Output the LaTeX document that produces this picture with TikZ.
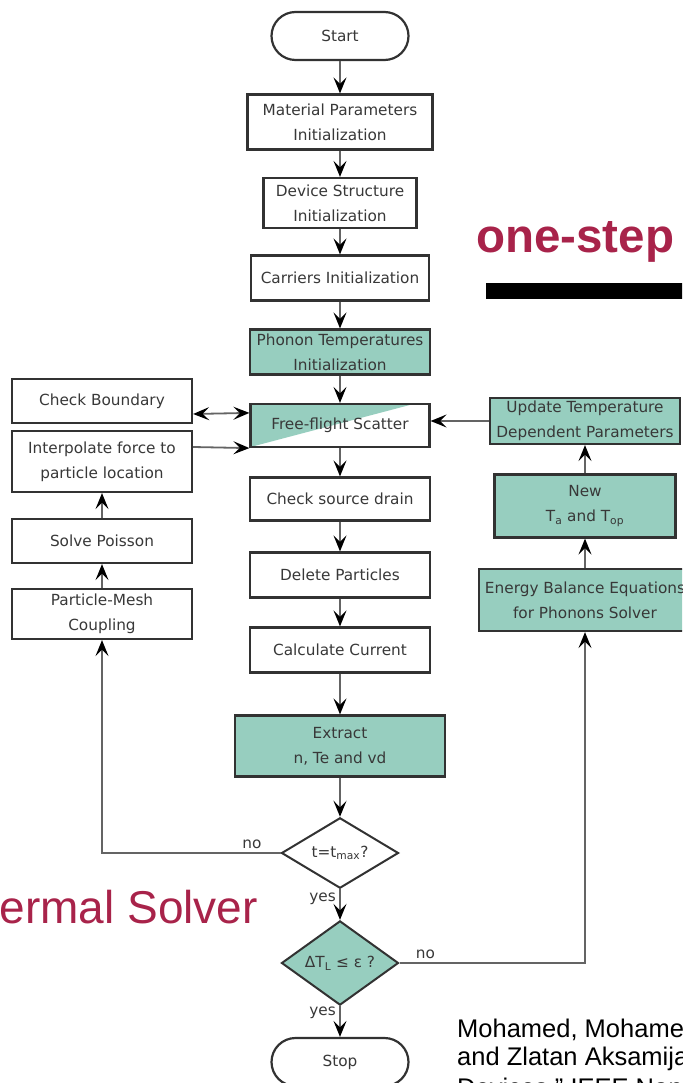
\documentclass[tikz,border=0pt]{standalone}
\usepackage{fontspec}
\setmainfont{DejaVu Sans}
\newfontfamily\arialfont{Liberation Sans}
\usetikzlibrary{arrows.meta,shapes.geometric}
\definecolor{phonon}{RGB}{151,206,191}
\definecolor{boxline}{RGB}{50,50,50}
\definecolor{wire}{RGB}{100,100,100}
\definecolor{slidered}{RGB}{168,35,74}

\begin{document}
\begin{tikzpicture}[x=1pt,y=-1pt,
    >={Stealth[black,length=16pt,width=13pt,inset=6.5pt]},
    box/.style={rectangle,draw=boxline,line width=2.2pt,fill=white,
                text=black!78,align=center,inner sep=0pt,
                font=\fontsize{15.3}{25}\selectfont},
    hot/.style={box,fill=phonon},
    term/.style={box,rounded corners=24pt,minimum width=137pt,minimum height=48pt},
    test/.style={diamond,draw=boxline,line width=2pt,fill=white,text=black!78,
                 inner sep=0pt,minimum width=117pt,minimum height=67pt,
                 font=\fontsize{15.3}{18}\selectfont},
    lbl/.style={text=black!78,font=\fontsize{15.3}{18}\selectfont}]

\useasboundingbox (0,0) rectangle (682,1083);
\clip (0,0) rectangle (682,1083);

% main column
\node[term] (start) at (340,36) {Start};
\node[box,minimum width=185pt,minimum height=55pt] (mat) at (340,122) {Material Parameters\\Initialization};
\node[box,minimum width=153pt,minimum height=50pt] (dev) at (340,203) {Device Structure\\Initialization};
\node[box,minimum width=178pt,minimum height=45pt] (car) at (340,278) {Carriers Initialization};
\node[hot,minimum width=180pt,minimum height=45pt] (pht) at (340,352) {Phonon Temperatures\\Initialization};
\node[box,minimum width=179pt,minimum height=43pt,
      path picture={\fill[phonon] (path picture bounding box.north west)
        -- ([xshift=-16pt]path picture bounding box.north east)
        -- (path picture bounding box.south west) -- cycle;}] (ffs) at (340,425.5) {Free-flight Scatter};
\node[box,minimum width=180pt,minimum height=43pt] (csd) at (340,499) {Check source drain};
\node[box,minimum width=180pt,minimum height=45pt] (del) at (340,575) {Delete Particles};
\node[box,minimum width=180pt,minimum height=45pt] (cur) at (340,650) {Calculate Current};
\node[hot,minimum width=210pt,minimum height=61pt] (ext) at (340,746) {Extract\\n, Te and vd};
\node[test] (tmax) at (340,853) {t=t\textsubscript{max}?};
\node[test,fill=phonon] (dtl) at (340,963) {ΔT\textsubscript{L} ≤ ε ?};
\node[term] (stop) at (340,1062) {Stop};

% left column
\node[box,minimum width=180pt,minimum height=44pt] (cb) at (102,401) {Check Boundary};
\node[box,minimum width=180pt,minimum height=61pt] (ipf) at (102,461.5) {Interpolate force to\\particle location};
\node[box,minimum width=180pt,minimum height=44pt] (spo) at (102,541) {Solve Poisson};
\node[box,minimum width=180pt,minimum height=50pt] (pmc) at (102,614) {Particle-Mesh\\Coupling};

% right column
\node[hot,minimum width=190pt,minimum height=46pt] (upd) at (585,421) {Update Temperature\\Dependent Parameters};
\node[hot,minimum width=181pt,minimum height=63pt] (new) at (585,506) {New\\T\textsubscript{a} and T\textsubscript{op}};
\node[hot,minimum width=212pt,minimum height=62pt] (ebe) at (585,600) {Energy Balance Equations\\for Phonons Solver};

\begin{scope}[every edge/.style={draw=wire,line width=1.8pt}]
    \path [->] (start) edge (mat);
    \path [->] (mat) edge (dev);
    \path [->] (dev) edge (car);
    \path [->] (car) edge (pht);
    \path [->] (pht) edge (ffs);
    \path [->] (ffs) edge (csd);
    \path [->] (csd) edge (del);
    \path [->] (del) edge (cur);
    \path [->] (cur) edge (ext);
    \path [->] (ext) edge (tmax);
    \path [->] (tmax) edge node[lbl,left,pos=0.3] {yes} (dtl);
    \path [->] (dtl) edge node[lbl,left,pos=0.2] {yes} (stop);
    \path [<->] ([yshift=-13pt]cb.east) edge ([yshift=-10pt]ffs.north west);
    \path [->] ([yshift=14.5pt]ipf.east) edge (ffs.south west);
    \path [->] (spo) edge (ipf);
    \path [->] (pmc) edge (spo);
    \path [->] (ebe) edge (new);
    \path [->] (new) edge (upd);
    \path [->] (upd) edge (upd.west -| ffs.east);
\end{scope}

\draw[draw=wire,line width=1.8pt,->] (tmax.west) -| node[lbl,above,pos=0.08] {no} (pmc.south);
\draw[draw=wire,line width=1.8pt,->] (dtl.east) -| node[lbl,above,pos=0.07] {no} (ebe.south);

% slide leftovers
\node[anchor=base west,inner sep=0pt,text=slidered,font=\arialfont\bfseries\fontsize{47.5}{47.5}\selectfont] (onestep) at (476,252) {one-step};
\fill[black] (486,283) rectangle (690,299);
\node[anchor=base east,inner sep=0pt,text=slidered,font=\arialfont\fontsize{46}{46}\selectfont] (solver) at (258,923) {ermal Solver};
\node[anchor=base west,inner sep=0pt,font=\arialfont\fontsize{25.5}{28}\selectfont] (cite1) at (457,1037) {Mohamed, Mohamed};
\node[anchor=base west,inner sep=0pt,font=\arialfont\fontsize{25.5}{28}\selectfont] (cite2) at (457,1065) {and Zlatan Aksamija};
\node[anchor=base west,inner sep=0pt,font=\arialfont\fontsize{25.5}{28}\selectfont] (cite3) at (457,1096) {Devices,” IEEE Nano};
\end{tikzpicture}
\end{document}
